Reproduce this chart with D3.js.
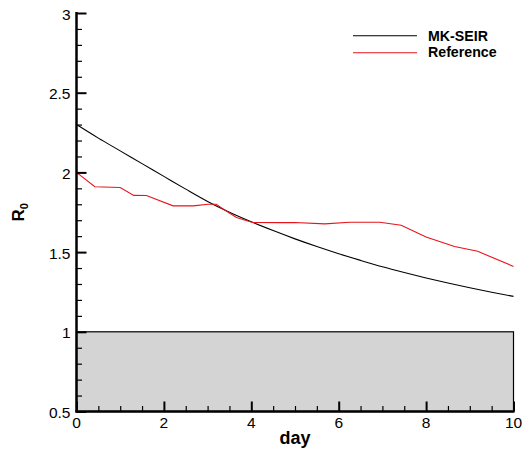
<!DOCTYPE html>
<html>
<head>
<meta charset="utf-8">
<script src="https://cdn.jsdelivr.net/npm/d3@7"></script>
<style>
  body { margin: 0; background: #fff; }
  svg { font-family: "Liberation Sans", Arial, Helvetica, sans-serif; }
</style>
</head>
<body>
<div id="chart"></div>
<script>
// values
const seirDays = [0, 0.5, 1, 1.5, 2, 2.5, 3, 3.5, 4, 4.5, 5, 5.5, 6, 6.5, 7, 7.5, 8, 8.5, 9, 9.5, 10];
const seirR0 = [2.30, 2.215, 2.135, 2.055, 1.975, 1.895, 1.818, 1.75, 1.69, 1.635, 1.583, 1.535, 1.49, 1.448, 1.408, 1.372, 1.338, 1.306, 1.276, 1.248, 1.222];

const refDays = [0, 0.42, 1.0, 1.31, 1.6, 2.21, 2.67, 3.01, 3.2, 3.32, 3.66, 4.03, 4.65, 5.0, 5.68, 6.25, 6.94, 7.43, 8.0, 8.65, 9.18, 10];
const refR0 = [2.0, 1.91, 1.905, 1.856, 1.855, 1.79, 1.79, 1.80, 1.80, 1.777, 1.717, 1.686, 1.685, 1.686, 1.677, 1.687, 1.687, 1.668, 1.595, 1.535, 1.505, 1.41];

const xTicks = [0, 2, 4, 6, 8, 10];
const yTicks = [0.5, 1, 1.5, 2, 2.5, 3];
const seriesNames = ["MK-SEIR", "Reference"];
const seriesColors = ["#000000", "#e8141b"];

const margin = {top: 13, right: 8, bottom: 37, left: 76.5},
    width = 522 - margin.left - margin.right,
    height = 449 - margin.top - margin.bottom;

var svg = d3.select("#chart")
    .append("svg")
    .attr("width", 522)
    .attr("height", 449)
    .append("g")
    .attr("transform", `translate(${margin.left},${margin.top})`);

var x = d3.scaleLinear().domain([0, 10]).range([0, width - 0.5]);
var y = d3.scaleLinear().domain([0.5, 3]).range([height - 0.5, 0]);

// grey band below R0 = 1
svg.append("rect")
    .attr("x", x(0))
    .attr("y", y(1))
    .attr("width", x(10) - x(0))
    .attr("height", y(0.5) - y(1))
    .attr("fill", "#d4d4d4")
    .attr("stroke", "black")
    .attr("stroke-width", 1.2);

// lines
svg.append("path")
    .datum(d3.zip(seirDays, seirR0))
    .attr("fill", "none")
    .attr("stroke", seriesColors[0])
    .attr("stroke-width", 1.1)
    .attr("d", d3.line().x(d => x(d[0])).y(d => y(d[1])).curve(d3.curveMonotoneX));

svg.append("path")
    .datum(d3.zip(refDays, refR0))
    .attr("fill", "none")
    .attr("stroke", seriesColors[1])
    .attr("stroke-width", 1.1)
    .attr("d", d3.line().x(d => x(d[0])).y(d => y(d[1])));

// Y axis, ticks pointing inward
var yAxis = svg.append("g")
    .call(d3.axisRight(y).tickValues(yTicks).tickSize(10).tickFormat(""));
yAxis.select(".domain").remove();
yAxis.selectAll(".tick line").attr("stroke-width", 2);
var yMinor = svg.append("g")
    .call(d3.axisRight(y).tickValues(d3.range(0.6, 3, 0.1).filter(v => Math.abs(v * 2 - Math.round(v * 2)) > 0.01)).tickSize(5.5).tickFormat(""));
yMinor.select(".domain").remove();
yMinor.selectAll(".tick line").attr("stroke-width", 1.2);

svg.selectAll(".ylab")
    .data(yTicks)
    .join("text")
    .attr("x", -6)
    .attr("y", d => y(d) + 6.5)
    .attr("text-anchor", "end")
    .attr("font-size", "15.5px")
    .text(d => d);

// X axis
var xAxis = svg.append("g")
    .attr("transform", `translate(0,${y(0.5)})`)
    .call(d3.axisTop(x).tickValues(xTicks).tickSize(10).tickFormat(""));
xAxis.select(".domain").remove();
xAxis.selectAll(".tick line").attr("stroke-width", 2);
var xMinor = svg.append("g")
    .attr("transform", `translate(0,${y(0.5)})`)
    .call(d3.axisTop(x).tickValues(d3.range(0.5, 10, 0.5).filter(v => v % 2 !== 0)).tickSize(5.5).tickFormat(""));
xMinor.select(".domain").remove();
xMinor.selectAll(".tick line").attr("stroke-width", 1.2);

svg.selectAll(".xlab")
    .data(xTicks)
    .join("text")
    .attr("x", d => x(d))
    .attr("y", y(0.5) + 16)
    .attr("text-anchor", "middle")
    .attr("font-size", "15.5px")
    .text(d => d);

// axis lines
svg.append("line")
    .attr("x1", x(0)).attr("x2", x(0))
    .attr("y1", y(3) - 1).attr("y2", y(0.5) + 1)
    .attr("stroke", "black").attr("stroke-width", 2.5);
svg.append("line")
    .attr("x1", x(0) - 1).attr("x2", x(10) + 1)
    .attr("y1", y(0.5)).attr("y2", y(0.5))
    .attr("stroke", "black").attr("stroke-width", 2.5);

// axis titles
svg.append("text")
    .attr("x", (x(0) + x(10)) / 2)
    .attr("y", y(0.5) + 32.5)
    .attr("text-anchor", "middle")
    .attr("font-size", "18px")
    .attr("font-weight", "bold")
    .text("day");

var rlab = svg.append("text")
    .attr("transform", `translate(${24 - margin.left},${(y(0.5) + y(3)) / 2}) rotate(-90)`)
    .attr("text-anchor", "middle")
    .attr("font-size", "17px")
    .attr("font-weight", "bold");
rlab.append("tspan").text("R");
rlab.append("tspan").attr("font-size", "11px").attr("dy", 4).text("0");

// legend
var legend = svg.append("g")
    .attr("transform", `translate(${353 - margin.left},${35.7 - margin.top})`);
seriesNames.forEach(function(name, i) {
    legend.append("line")
        .attr("x1", 0).attr("x2", 64)
        .attr("y1", i * 17).attr("y2", i * 17)
        .attr("stroke", seriesColors[i])
        .attr("stroke-width", 1.1);
    legend.append("text")
        .attr("x", 75)
        .attr("y", i * 17 + 4.8)
        .attr("font-size", "14.2px")
        .attr("font-weight", "bold")
        .text(name);
});
</script>
</body>
</html>
